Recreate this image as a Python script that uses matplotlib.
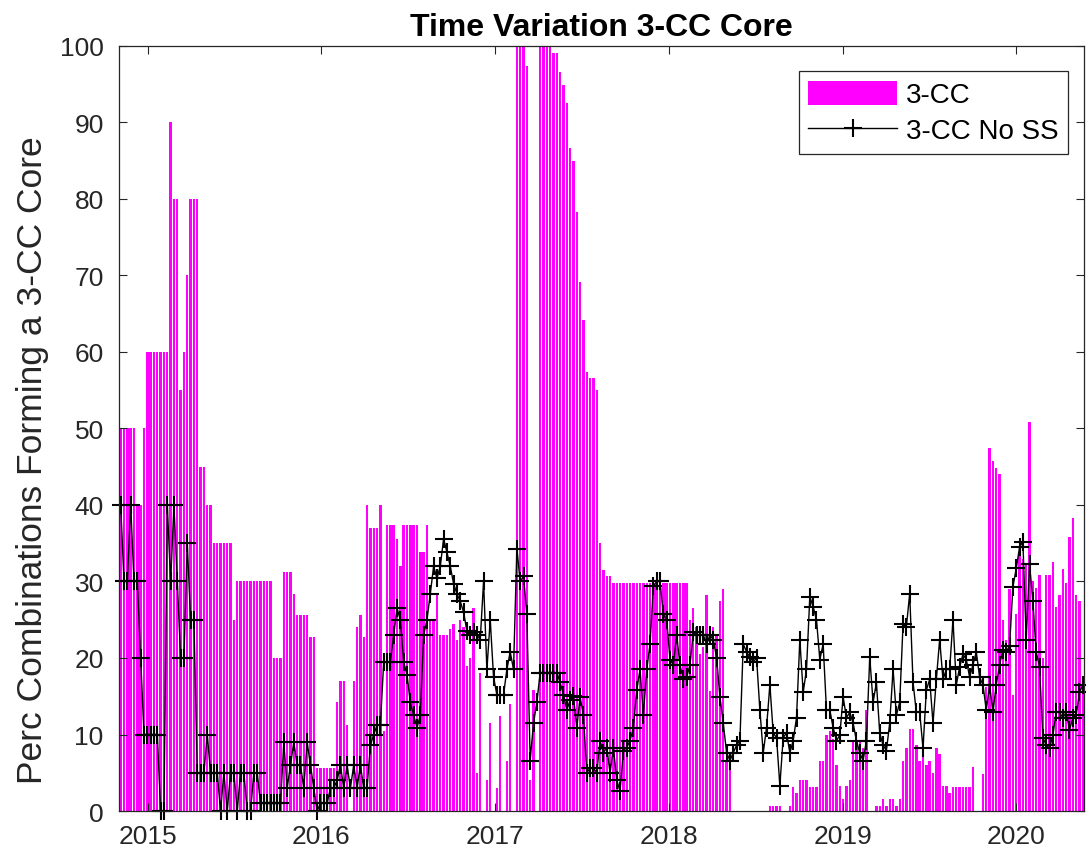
import matplotlib
matplotlib.use('Agg')
import matplotlib.pyplot as plt
import matplotlib.dates as mdates
import pandas as pd

plt.rcParams['font.family'] = ['Liberation Sans', 'DejaVu Sans']

# weekly values, oldest first
cc3 = [
    50, 50, 50, 50, 50, 40, 40, 50, 60, 60,
    60, 60, 60, 60, 60, 90, 80, 80, 55, 60,
    70, 80, 80, 80, 45, 45, 40, 40, 35, 35,
    35, 35, 35, 35, 25, 30, 30, 30, 30, 30,
    30, 30, 30, 30, 30, 30, 20, 20, 20, 31.3,
    31.3, 31.3, 28.4, 25.6, 25.6, 25.6, 25.6, 22.7, 22.7, 5.6,
    5.6, 5.6, 5.6, 5.6, 5.6, 14.2, 17, 17, 11.2, 0,
    17, 24, 25.6, 22.7, 40, 37, 37, 37, 40, 10.5,
    37.4, 37.4, 37.4, 35.6, 32, 37.4, 37.4, 37.4, 37.4, 37.4,
    33.8, 33.8, 37.4, 25, 25, 28.4, 23, 23, 23, 23.8,
    24.4, 22.4, 25, 24, 19, 20, 26.5, 5, 18, 0,
    4, 11.5, 0, 3, 12.4, 0, 6.6, 14, 0, 100,
    100, 100, 97.4, 4, 15.8, 0, 100, 100, 100, 100,
    99.1, 99.1, 96.6, 94.9, 92.5, 86.6, 84.9, 78.3, 69.1, 64.2,
    57.4, 56.6, 56.6, 55, 35, 31.5, 30.7, 30.7, 29.8, 29.8,
    29.8, 29.8, 29.8, 29.8, 29.8, 29.8, 29.8, 29.8, 29.8, 29.8,
    29.8, 29.8, 29.8, 29.8, 29.8, 29.8, 29.8, 29.8, 29.8, 29.8,
    29.8, 25, 26.5, 24, 20.5, 21.5, 28.2, 15.7, 24, 23,
    27.4, 29, 6.6, 6.6, 0, 0, 0, 0, 0, 0,
    0, 0, 0, 0, 0, 0.7, 0.7, 0.7, 0.7, 0,
    0, 0.7, 3.2, 2.3, 4, 4, 4, 3.2, 3.2, 3.2,
    6.6, 6.6, 10, 10.5, 9.4, 6, 3.3, 1.6, 3.3, 4,
    9.2, 9.2, 9.2, 8.2, 13.2, 0, 0, 0.7, 0.7, 1.6,
    0.7, 1.6, 1.6, 0.7, 1.6, 6.6, 8.2, 10.7, 10.7, 8.6,
    6.6, 8.2, 6, 6.6, 5, 8.2, 7.4, 3.3, 3.3, 2.3,
    3.2, 3.2, 3.2, 3.2, 3.2, 3.2, 5.7, 0, 0, 4.9,
    16.2, 47.4, 45.7, 44.9, 44.1, 25, 22.4, 29, 15.1, 25.8,
    33.6, 33, 32.3, 50.8, 30, 29.1, 30.8, 20, 30.8, 30.8,
    32.5, 26.7, 28.2, 31.6, 29.8, 35.8, 38.3, 28.2, 27.5, 17.5,
]

cc3_no_ss = [
    40, 30, 30, 40, 30, 30, 20, 10, 10, 10,
    10, 10, 0, 0, 40, 30, 40, 30, 20, 20,
    35, 25, 25, 5, 5, 5, 10, 5, 5, 5,
    0, 5, 0, 5, 5, 0, 5, 5, 0, 0,
    5, 5, 1, 1, 1, 1, 1, 1, 1, 9,
    3, 6, 9, 6, 6, 3, 9, 6, 3, 0,
    1, 1, 1, 3, 3, 4, 6, 3, 6, 3,
    6, 3, 6, 3, 3, 8.6, 10, 11.2, 11.2, 19.5,
    19.5, 19.5, 23, 26.5, 25, 19.5, 17.8, 14.2, 12.5, 10.9,
    12.5, 23, 25, 28.4, 32, 30.4, 32, 35.6, 33.8, 32,
    29.7, 28.4, 27.4, 26, 23.5, 23, 23.4, 23, 22.4, 30,
    18.5, 25, 17.5, 15.2, 15.2, 15.2, 18.5, 20.8, 18.5, 34.3,
    30, 30.7, 25.7, 6.6, 11.5, 14.2, 18.1, 18.1, 18.1, 18.1,
    18.1, 18.1, 16.8, 15.2, 13.2, 14.5, 15, 10.9, 14.9, 12.5,
    5, 5.6, 5.6, 5, 9.2, 7.6, 8.3, 5, 8.3, 4,
    2.6, 7.9, 8.3, 9.2, 10.9, 15.8, 18.5, 12.5, 18.5, 21.8,
    29.4, 30, 30, 25.7, 25, 19.8, 19.1, 23, 19.1, 17.2,
    17.5, 19.1, 23.4, 23, 23, 23, 21.8, 23, 22.4, 20,
    14.9, 11.5, 7.6, 6.6, 7.6, 8.6, 9.2, 21.8, 20.8, 20.1,
    19.5, 20, 13.2, 7.6, 10.9, 16.5, 10.2, 9.6, 3.3, 9.6,
    10.2, 7.6, 9.2, 12.2, 22.4, 15.5, 18.5, 28, 26.7, 25,
    19.8, 21.8, 13.2, 13.2, 10.9, 9.2, 9.9, 14.9, 12.2, 12.9,
    11.5, 9.2, 7.6, 6.6, 9.2, 20.1, 14.2, 16.8, 10.2, 8.6,
    7.9, 11.5, 18.5, 12.5, 14.2, 24.4, 24.1, 28.4, 16.8, 12.9,
    12.9, 8.2, 15.8, 17.2, 11.5, 17.2, 22.4, 17.2, 18.5, 18.5,
    25, 16.5, 18.8, 20.5, 19.8, 17.5, 19.1, 20.8, 17.5, 16.5,
    13.2, 16.5, 12.9, 16.5, 19.1, 21.1, 20.8, 21.6, 29.3, 31.7,
    34.5, 35.2, 22.4, 32.3, 27.4, 20.8, 18.8, 9.6, 8.6, 8.2,
    9.9, 12.9, 12.9, 12.2, 12.9, 10.6, 12.2, 12.5, 15.5, 16.5,
]

weeks = pd.date_range('2014-11-05', periods=len(cc3), freq='7D')
year_ticks = [2015, 2016, 2017, 2018, 2019, 2020]

fig = plt.figure(figsize=(10.86, 8.62), dpi=100)
ax = fig.add_axes([0.1096, 0.058, 0.889, 0.8875])

bars = ax.bar(weeks, cc3, width=5.0, color='#ff00ff', linewidth=0, label='3-CC')
line, = ax.plot(weeks, cc3_no_ss, color='black', linewidth=1.0, marker='+',
                markersize=13, markeredgewidth=1.5, clip_on=False,
                label='3-CC No SS')

half = pd.Timedelta(days=3.5)
ax.set_xlim(weeks[0] - half, weeks[-1] + half)
ax.set_ylim(0, 100)
ax.set_yticks(range(0, 101, 10))
ax.set_xticks([pd.Timestamp(f'{y}-01-01') for y in year_ticks])
ax.xaxis.set_major_formatter(mdates.DateFormatter('%Y'))

ax.tick_params(direction='in', length=6, width=0.8, top=True, right=True,
               labelsize=19, colors='#262626')
ax.tick_params(axis='y', pad=11)
ax.tick_params(axis='x', pad=9)
for s in ax.spines.values():
    s.set_color('#262626')
    s.set_linewidth(0.9)

ax.set_title('Time Variation 3-CC Core', fontsize=23, fontweight='bold', pad=8)
ax.set_ylabel('Perc Combinations Forming a 3-CC Core', fontsize=25.5,
              color='#262626')
ax.yaxis.set_label_coords(-0.073, 0.46)

leg = ax.legend([bars, line], ['3-CC', '3-CC No SS'], loc='upper right',
                bbox_to_anchor=(0.983, 0.967), borderaxespad=0, fontsize=20,
                frameon=True, fancybox=False, framealpha=1,
                edgecolor='#262626', handlelength=3.2, handleheight=0.95,
                borderpad=0.35, labelspacing=0.3, handletextpad=0.3)
leg.get_frame().set_linewidth(0.9)

fig.savefig('out.png', dpi=100)
